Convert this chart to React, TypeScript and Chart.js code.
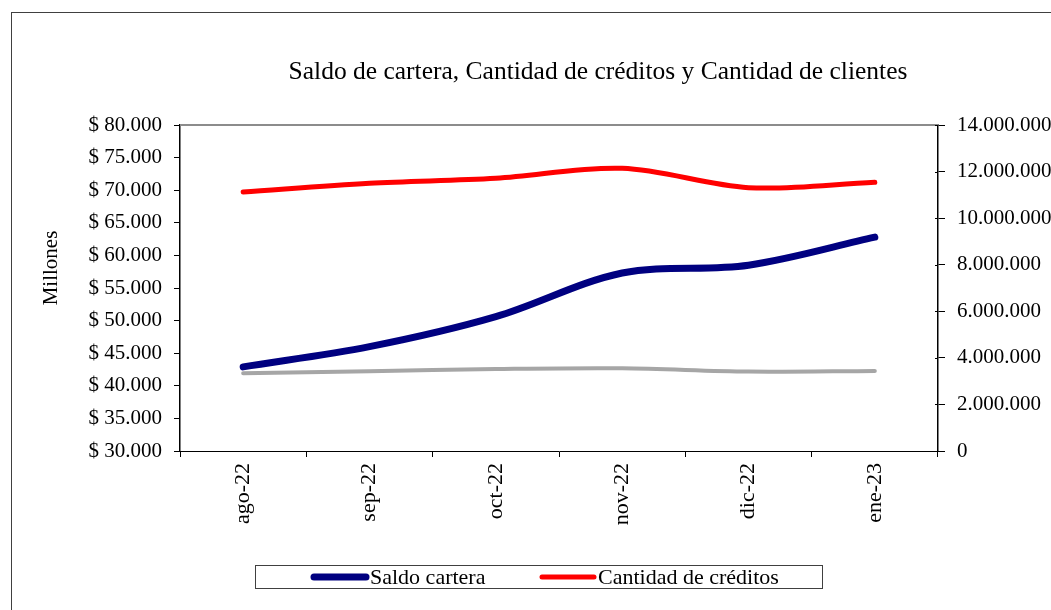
import React, { useEffect, useRef } from "react";
import { Chart, registerables } from "chart.js";

Chart.register(...registerables);

const categories = ["ago-22", "sep-22", "oct-22", "nov-22", "dic-22", "ene-23"];
const saldoCartera = [42900, 46000, 50600, 57300, 58500, 62800];
const cantidadCreditos = [11120000, 11500000, 11710000, 12140000, 11310000, 11540000];
const cantidadClientes = [3340000, 3430000, 3520000, 3550000, 3410000, 3440000];

const titleText = "Saldo de cartera, Cantidad de créditos y Cantidad de clientes";
const leftAxisTitle = "Millones";
const legendItems = [
  { label: "Saldo cartera", color: "#000080", width: 7 },
  { label: "Cantidad de créditos", color: "#FF0000", width: 5 },
];

const FONT = "'Liberation Serif', 'Times New Roman', serif";

function fmt(v: number): string {
  const s = Math.round(v).toString();
  return s.replace(/\B(?=(\d{3})+(?!\d))/g, ".");
}

const decorPlugin = {
  id: "decor",
  beforeDraw(chart: any) {
    const { ctx, width, height } = chart;
    ctx.save();
    ctx.fillStyle = "#ffffff";
    ctx.fillRect(0, 0, width, height);
    ctx.strokeStyle = "#404040";
    ctx.lineWidth = 1;
    ctx.strokeRect(11.5, 12.5, width + 20, height + 20);
    ctx.restore();
  },
  beforeDatasetsDraw(chart: any) {
    const { ctx, chartArea } = chart;
    ctx.save();
    ctx.strokeStyle = "#8c8c8c";
    ctx.lineWidth = 2;
    ctx.beginPath();
    ctx.moveTo(chartArea.left, chartArea.top);
    ctx.lineTo(chartArea.right, chartArea.top);
    ctx.stroke();
    // inward part of right-axis ticks
    const y1 = chart.scales.y1;
    ctx.strokeStyle = "#000";
    ctx.lineWidth = 1;
    y1.ticks.forEach((t: any) => {
      const y = Math.round(y1.getPixelForValue(t.value)) + 0.5;
      ctx.beginPath();
      ctx.moveTo(chartArea.right - 3, y);
      ctx.lineTo(chartArea.right, y);
      ctx.stroke();
    });
    ctx.restore();
  },
  afterDraw(chart: any) {
    const { ctx } = chart;
    ctx.save();
    ctx.fillStyle = "#000";
    ctx.font = `25.5px ${FONT}`;
    ctx.textAlign = "center";
    ctx.textBaseline = "middle";
    ctx.fillText(titleText, 598, 72);

    ctx.font = `21px ${FONT}`;
    ctx.save();
    ctx.translate(51, 268);
    ctx.rotate(-Math.PI / 2);
    ctx.fillText(leftAxisTitle, 0, 0);
    ctx.restore();

    // legend
    ctx.font = `22px ${FONT}`;
    ctx.strokeStyle = "#404040";
    ctx.lineWidth = 1;
    ctx.strokeRect(255.5, 565.5, 567, 23);
    const starts = [314, 542];
    legendItems.forEach((it, i) => {
      const x0 = starts[i];
      ctx.strokeStyle = it.color;
      ctx.lineWidth = it.width;
      ctx.lineCap = "round";
      ctx.beginPath();
      ctx.moveTo(x0, 577);
      ctx.lineTo(x0 + 52, 577);
      ctx.stroke();
      ctx.fillStyle = "#000";
      ctx.textAlign = "left";
      ctx.textBaseline = "middle";
      ctx.fillText(it.label, x0 + 56, 578);
    });
    ctx.restore();
  },
};

export default function App() {
  const ref = useRef<HTMLCanvasElement>(null);
  useEffect(() => {
    document.body.style.margin = "0";
    const canvas = ref.current!;
    const tickFont = { family: FONT, size: 21 };
    const chart = new Chart(canvas, {
      type: "line",
      data: {
        labels: categories,
        datasets: [
          {
            label: "Cantidad de clientes",
            data: cantidadClientes,
            yAxisID: "y1",
            borderColor: "#a6a6a6",
            borderWidth: 4,
            pointRadius: 0,
            tension: 0.33,
            borderCapStyle: "round",
          },
          {
            label: "Cantidad de créditos",
            data: cantidadCreditos,
            yAxisID: "y1",
            borderColor: "#FF0000",
            borderWidth: 5,
            pointRadius: 0,
            tension: 0.33,
            borderCapStyle: "round",
          },
          {
            label: "Saldo cartera",
            data: saldoCartera,
            yAxisID: "y",
            borderColor: "#000080",
            borderWidth: 7,
            pointRadius: 0,
            tension: 0.33,
            borderCapStyle: "round",
          },
        ],
      },
      options: {
        responsive: false,
        animation: false,
        layout: { padding: { left: 0, right: 0, top: 125, bottom: 0 } },
        plugins: {
          legend: { display: false },
          title: { display: false },
          tooltip: { enabled: false },
        },
        scales: {
          x: {
            type: "category",
            offset: true,
            grid: {
              offset: true,
              drawOnChartArea: false,
              drawTicks: true,
              tickLength: 6,
              color: "#000",
            },
            border: { display: true, color: "#000", width: 1 },
            ticks: {
              autoSkip: false,
              maxRotation: 90,
              minRotation: 90,
              padding: 6,
              color: "#000",
              font: { family: FONT, size: 22 },
            },
            afterFit: (s: any) => {
              s.height = 159;
            },
          },
          y: {
            position: "left",
            min: 30000,
            max: 80000,
            ticks: {
              stepSize: 5000,
              padding: 12,
              color: "#000",
              font: tickFont,
              callback: (v: any) => "$ " + fmt(Number(v)),
            },
            grid: {
              drawOnChartArea: false,
              drawTicks: true,
              tickLength: 6,
              color: "#000",
            },
            border: { display: true, color: "#000", width: 1.5 },
            afterFit: (s: any) => {
              s.width = 180;
            },
          },
          y1: {
            position: "right",
            min: 0,
            max: 14000000,
            ticks: {
              stepSize: 2000000,
              padding: 12,
              color: "#000",
              font: tickFont,
              callback: (v: any) => fmt(Number(v)),
            },
            grid: {
              drawOnChartArea: false,
              drawTicks: true,
              tickLength: 7,
              color: "#000",
            },
            border: { display: true, color: "#000", width: 1.5 },
            afterFit: (s: any) => {
              s.width = 113;
            },
          },
        },
      },
      plugins: [decorPlugin],
    } as any);
    return () => chart.destroy();
  }, []);
  return <canvas ref={ref} width={1051} height={610} style={{ display: "block" }} />;
}
